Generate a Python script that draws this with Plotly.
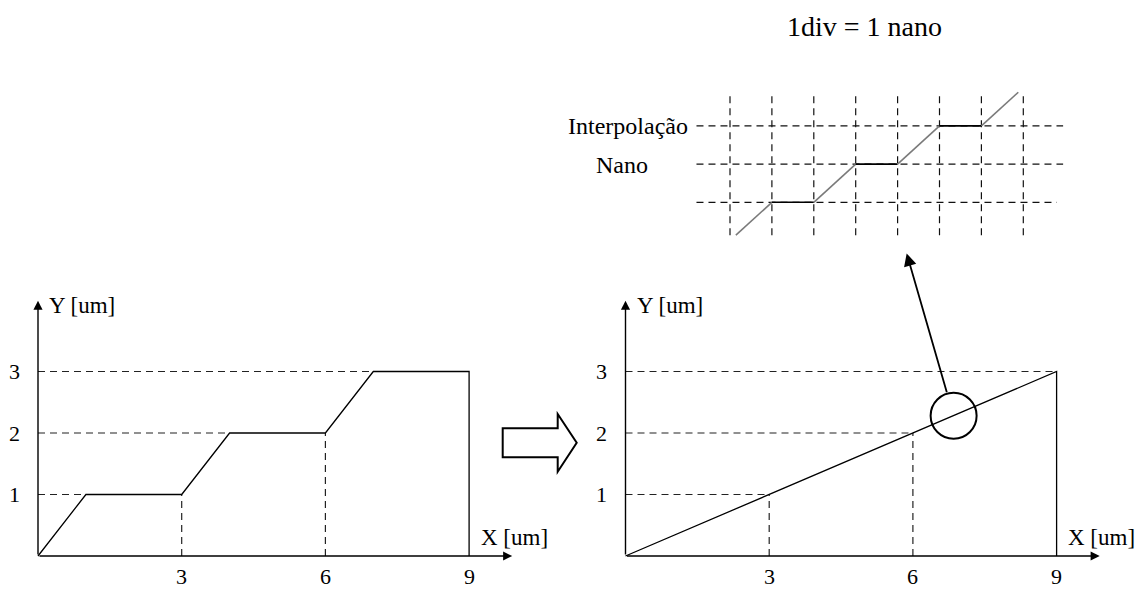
import numpy as np
import plotly.graph_objects as go

# the page body adds an 8px margin, so the figure is 8px smaller on each side
OFF = 8
W, H = 1146 - OFF, 590 - OFF
FONT = "Liberation Serif"

# --- data -------------------------------------------------------------
tick_x = [3, 6, 9]
tick_y = [1, 2, 3]
tick_x_labels = ["3", "6", "9"]
tick_y_labels = ["1", "2", "3"]

# left: nano steps (um)
nano_x = [0, 1, 3, 4, 6, 7, 9, 9]
nano_y = [0, 1, 1, 2, 2, 3, 3, 0]

# right: straight interpolation (um)
interp_x = [0, 9, 9]
interp_y = [0, 3, 0]

# inset: 1 div = 1 nano
inset_x = [0.14, 1, 2, 3, 4, 5, 6, 6.88]
inset_y = [0.14, 1, 1, 2, 2, 3, 3, 3.88]
grid_cols = [0, 1, 2, 3, 4, 5, 6, 7]
grid_rows = [1, 2, 3]
grid_row_end = [7.8, 7.95, 7.95]

zoom_center = (6.85, 2.28)
pointer_tip = (5.87, 4.92)

# --- pixel geometry ---------------------------------------------------
UX, UY = 47.9, 61.5          # pixels per unit, main charts
IUX, IUY = 41.9, 38.2        # pixels per div, inset


def px(x):
    return (x - OFF) / W


def py(y):
    return 1 - (y - OFF) / H


def axis_dom(origin, unit, lo, hi, vertical=False):
    if vertical:
        return [py(origin - lo * unit), py(origin - hi * unit)]
    return [px(origin + lo * unit), px(origin + hi * unit)]


XR, YR = [-0.6, 10.6], [-0.5, 4.5]
IXR, IYR = [-1.2, 8.3], [-0.3, 4.2]

fig = go.Figure()


def line(xs, ys, ax, color="black", width=1.3, dash=None):
    fig.add_trace(go.Scatter(
        x=xs, y=ys, mode="lines", xaxis=ax[0], yaxis=ax[1],
        line=dict(color=color, width=width, dash=dash),
        hoverinfo="skip", showlegend=False,
    ))


def first_x_at(cx, cy, k):
    # first point along the polyline where it reaches height k
    for a in range(len(cx) - 1):
        y0, y1 = cy[a], cy[a + 1]
        if y0 <= k <= y1 and y1 != y0:
            return cx[a] + (k - y0) / (y1 - y0) * (cx[a + 1] - cx[a])
    return cx[-1]


def guides(cx, cy, ax):
    # dashed helper lines from the axes to the curve
    gx, gy = [], []
    for k in tick_y:
        gx += [0, first_x_at(cx, cy, k), None]
        gy += [k, k, None]
    for t in tick_x[:-1]:
        v = float(np.interp(t, cx[:-1], cy[:-1]))
        gx += [t, t, None]
        gy += [0, v, None]
    line(gx, gy, ax, color="#222", width=1.2, dash="7px,5px")


panels = [("x", "y", nano_x, nano_y), ("x2", "y2", interp_x, interp_y)]
for xa, ya, cx, cy in panels:
    guides(cx, cy, (xa, ya))
    line(cx, cy, (xa, ya))

# inset grid
gx, gy = [], []
for c in grid_cols:
    gx += [c, c, None]
    gy += [0.14, 3.87, None]
for r, e in zip(grid_rows, grid_row_end):
    gx += [-0.8, e, None]
    gy += [r, r, None]
line(gx, gy, ("x3", "y3"), color="#111", width=1.2, dash="7px,5px")

# inset staircase: rises grey, flats black
for a in range(len(inset_x) - 1):
    rise = inset_y[a + 1] != inset_y[a]
    line(inset_x[a:a + 2], inset_y[a:a + 2], ("x3", "y3"),
         color="#7a7a7a" if rise else "black", width=1.6)

annotations = []
shapes = []

# axes with arrows, tick labels, axis titles
for xa, ya, cx, cy in panels:
    for (x, y) in [(9.9, 0), (0, 4.15)]:
        annotations.append(dict(
            x=x, y=y, ax=0, ay=0, xref=xa, yref=ya, axref=xa, ayref=ya,
            text="", showarrow=True, arrowhead=2, arrowsize=1.3,
            arrowwidth=1.4, arrowcolor="black", standoff=0, startstandoff=0,
        ))
    for t, lab in zip(tick_x, tick_x_labels):
        annotations.append(dict(x=t, y=0, xref=xa, yref=ya, text=lab,
                                showarrow=False, yshift=-20,
                                font=dict(size=22)))
    for t, lab in zip(tick_y, tick_y_labels):
        annotations.append(dict(x=0, y=t, xref=xa, yref=ya, text=lab,
                                showarrow=False, xshift=-24,
                                font=dict(size=22)))
    annotations.append(dict(x=9.2, y=0, xref=xa, yref=ya, text="X [um]",
                            showarrow=False, xanchor="left", yanchor="middle",
                            yshift=19, font=dict(size=23)))
    annotations.append(dict(x=0, y=4.08, xref=xa, yref=ya, text="Y [um]",
                            showarrow=False, xanchor="left", yanchor="middle",
                            xshift=9, font=dict(size=23)))

# magnifier circle + pointer
R = 23
cxp, cyp = zoom_center
shapes.append(dict(type="circle", xref="x2", yref="y2",
                   x0=cxp - R / UX, x1=cxp + R / UX,
                   y0=cyp - R / UY, y1=cyp + R / UY,
                   line=dict(color="black", width=2)))
dx = (pointer_tip[0] - cxp) * UX
dy = (pointer_tip[1] - cyp) * UY
n = np.hypot(dx, dy)
tail = (cxp + R * dx / n / UX, cyp + R * dy / n / UY)
annotations.append(dict(
    x=pointer_tip[0], y=pointer_tip[1], ax=tail[0], ay=tail[1],
    xref="x2", yref="y2", axref="x2", ayref="y2", text="", showarrow=True,
    arrowhead=2, arrowsize=1.4, arrowwidth=1.8, arrowcolor="black",
    standoff=0, startstandoff=0,
))

# hollow block arrow between the charts
blk = [(502.7, 428.3), (557.7, 428.3), (557.7, 414), (576.7, 442.7),
       (557.7, 471.7), (557.7, 457.3), (502.7, 457.3)]
path = "M " + " L ".join(f"{px(a):.5f},{py(b):.5f}" for a, b in blk) + " Z"
shapes.append(dict(type="path", xref="paper", yref="paper", path=path,
                   line=dict(color="black", width=2), fillcolor="white"))

# captions
annotations += [
    dict(x=px(864), y=py(27), xref="paper", yref="paper", xanchor="center",
         yanchor="middle", text="1div = 1 nano", showarrow=False,
         font=dict(size=28)),
    dict(x=px(690), y=py(126), xref="paper", yref="paper", xanchor="right",
         yanchor="middle", text="Interpolação", showarrow=False),
    dict(x=px(622), y=py(165), xref="paper", yref="paper", xanchor="center",
         yanchor="middle", text="Nano", showarrow=False),
]

hidden = dict(visible=False, showgrid=False, zeroline=False)
fig.update_layout(
    width=W, height=H, margin=dict(l=0, r=0, t=0, b=0),
    paper_bgcolor="white", plot_bgcolor="white",
    font=dict(family=FONT, size=24, color="black"),
    xaxis=dict(hidden, range=XR, domain=axis_dom(38.0, UX, *XR)),
    yaxis=dict(hidden, range=YR, domain=axis_dom(556, UY, *YR, vertical=True)),
    xaxis2=dict(hidden, range=XR, domain=axis_dom(625.5, UX, *XR), anchor="y2"),
    yaxis2=dict(hidden, range=YR, domain=axis_dom(556, UY, *YR, vertical=True), anchor="x2"),
    xaxis3=dict(hidden, range=IXR, domain=axis_dom(730, IUX, *IXR), anchor="y3"),
    yaxis3=dict(hidden, range=IYR, domain=axis_dom(240.5, IUY, *IYR, vertical=True), anchor="x3"),
    annotations=annotations,
    shapes=shapes,
)

fig.write_html("out.html")
